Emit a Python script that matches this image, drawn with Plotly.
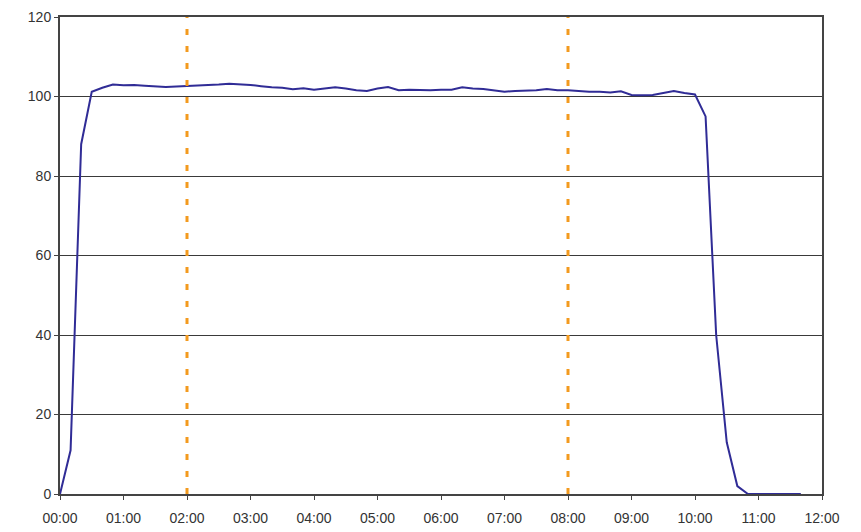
import plotly.graph_objects as go

# minutes after 00:00, sampled every 10 minutes
minutes = list(range(0, 710, 10))
values = [
    0, 11, 88, 101.2, 102.2, 103.0, 102.8, 102.9, 102.7, 102.6,
    102.4, 102.5, 102.6, 102.7, 102.8, 103.0, 103.2, 103.1, 102.9, 102.6,
    102.3, 102.2, 101.8, 102.1, 101.7, 102.0, 102.3, 102.0, 101.6, 101.4,
    102.0, 102.4, 101.6, 101.7, 101.6, 101.6, 101.7, 101.7, 102.3, 102.0,
    101.9, 101.6, 101.2, 101.4, 101.5, 101.6, 101.9, 101.6, 101.6, 101.4,
    101.2, 101.2, 101.0, 101.3, 100.4, 100.3, 100.4, 100.9, 101.4, 100.9,
    100.5, 95, 40, 13, 2, 0, 0, 0, 0, 0, 0,
]
marker_minutes = [120, 480]
tick_minutes = list(range(0, 780, 60))
tick_labels = ['%02d:00' % (m // 60) for m in tick_minutes]

fig = go.Figure()

fig.add_trace(go.Scatter(x=minutes, y=values, mode='lines',
                         line=dict(color='#302C96', width=2), showlegend=False))

for m in marker_minutes:
    fig.add_shape(type='line', xref='x', yref='y', x0=m, x1=m, y0=0, y1=120,
                  line=dict(color='#F39A1E', width=3, dash='6px,11px'))

# the page adds an 8px body margin, margins below account for it
fig.update_layout(
    width=861, height=532,
    margin=dict(l=52, r=47, t=9, b=46),
    plot_bgcolor='white', paper_bgcolor='white',
    font=dict(family='Liberation Sans, Arial', size=14, color='#333333'),
    showlegend=False,
)

fig.update_xaxes(range=[0, 720], tickvals=tick_minutes, ticktext=tick_labels,
                 showgrid=False, zeroline=False, automargin=False,
                 showline=True, linecolor='#444444', linewidth=2, mirror=True,
                 ticks='outside', ticklen=4, tickcolor='#444444',
                 ticklabelstandoff=6, ticklabeloverflow='allow')
fig.update_yaxes(range=[0, 120], dtick=20,
                 showgrid=True, gridcolor='#3a3a3a', gridwidth=1.3, zeroline=False,
                 automargin=False,
                 showline=True, linecolor='#444444', linewidth=2, mirror=True,
                 ticks='outside', ticklen=4, tickcolor='#444444',
                 ticklabeloverflow='allow')

fig.write_html("out.html")
